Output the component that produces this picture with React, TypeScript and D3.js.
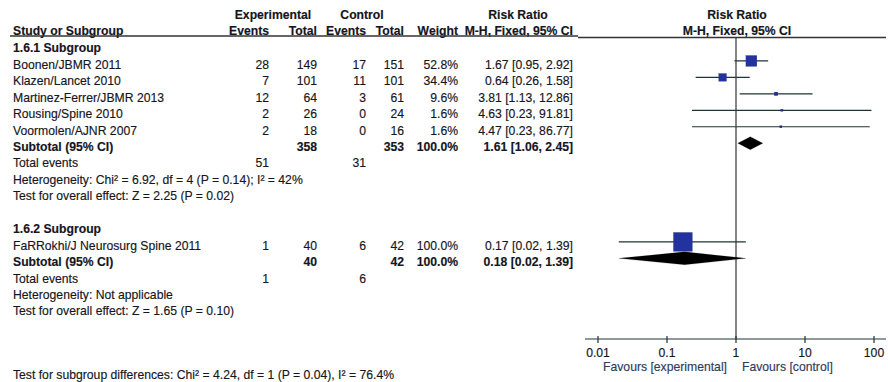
import * as React from 'react';
import * as d3 from 'd3';

// study level data
const group1Names = ['Boonen/JBMR 2011', 'Klazen/Lancet 2010', 'Martinez-Ferrer/JBMR 2013', 'Rousing/Spine 2010', 'Voormolen/AJNR 2007'];
const group1ExpEvents = [28, 7, 12, 2, 2];
const group1ExpTotals = [149, 101, 64, 26, 18];
const group1CtrlEvents = [17, 11, 3, 0, 0];
const group1CtrlTotals = [151, 101, 61, 24, 16];
const group1Weights = [52.8, 34.4, 9.6, 1.6, 1.6];
const group1RR = [1.67, 0.64, 3.81, 4.63, 4.47];
const group1Low = [0.95, 0.26, 1.13, 0.23, 0.23];
const group1High = [2.92, 1.58, 12.86, 91.81, 86.77];

const group2Names = ['FaRRokhi/J Neurosurg Spine 2011'];
const group2ExpEvents = [1];
const group2ExpTotals = [40];
const group2CtrlEvents = [6];
const group2CtrlTotals = [42];
const group2Weights = [100.0];
const group2RR = [0.17];
const group2Low = [0.02];
const group2High = [1.39];

// subtotals: [group1, group2]
const subExpTotals = [358, 40];
const subCtrlTotals = [353, 42];
const subExpEvents = [51, 1];
const subCtrlEvents = [31, 6];
const subRR = [1.61, 0.18];
const subLow = [1.06, 0.02];
const subHigh = [2.45, 1.39];
const heterogeneity = ['Heterogeneity: Chi\u00b2 = 6.92, df = 4 (P = 0.14); I\u00b2 = 42%', 'Heterogeneity: Not applicable'];
const overallEffect = ['Test for overall effect: Z = 2.25 (P = 0.02)', 'Test for overall effect: Z = 1.65 (P = 0.10)'];
const groupLabels = ['1.6.1 Subgroup', '1.6.2 Subgroup'];

const tickValues = [0.01, 0.1, 1, 10, 100];
const tickLabels = ['0.01', '0.1', '1', '10', '100'];

const W = 888, H = 382;
const FONT = '"Liberation Sans", Arial, sans-serif';
const TEXT = '#15151c';
const LINE = '#1f3535';
const BOX = '#2233a0';

const fmt = (v: number) => v.toFixed(2);
const ciText = (r: number, l: number, h: number) => `${fmt(r)} [${fmt(l)}, ${fmt(h)}]`;

const App: React.FC = () => {
  const x = d3.scaleLog().domain([0.01, 100]).range([598, 874]);
  const rowY = (i: number) => 48 + i * 16.45;
  const markOff = -3.5;
  const boxSize = d3.scaleLinear().domain([0, 100]).range([2, 19]);

  // columns (right edges)
  const cExpEv = 269, cExpTot = 317, cCtrlEv = 366, cCtrlTot = 404, cWeight = 458, cCI = 573;

  type Study = { name: string; ee: number; et: number; ce: number; ct: number; w: number; rr: number; lo: number; hi: number };
  const mk = (names: string[], ee: number[], et: number[], ce: number[], ct: number[], w: number[], rr: number[], lo: number[], hi: number[]): Study[] =>
    names.map((n, i) => ({ name: n, ee: ee[i], et: et[i], ce: ce[i], ct: ct[i], w: w[i], rr: rr[i], lo: lo[i], hi: hi[i] }));
  const groups = [
    mk(group1Names, group1ExpEvents, group1ExpTotals, group1CtrlEvents, group1CtrlTotals, group1Weights, group1RR, group1Low, group1High),
    mk(group2Names, group2ExpEvents, group2ExpTotals, group2CtrlEvents, group2CtrlTotals, group2Weights, group2RR, group2Low, group2High),
  ];

  const els: React.ReactNode[] = [];
  let row = 0;
  const txt = (key: string, xx: number, i: number, s: string, anchor: 'start' | 'end' | 'middle' = 'end', bold = false) => (
    <text key={key} x={xx} y={rowY(i)} dy="0.35em" textAnchor={anchor} fontWeight={bold ? 'bold' : 'normal'}>{s}</text>
  );

  groups.forEach((studies, g) => {
    els.push(txt(`gl${g}`, 13, row, groupLabels[g], 'start', true));
    row++;
    studies.forEach((s, j) => {
      const k = `s${g}-${j}`;
      els.push(txt(k + 'n', 13, row, s.name, 'start'));
      els.push(txt(k + 'ee', cExpEv, row, String(s.ee)));
      els.push(txt(k + 'et', cExpTot, row, String(s.et)));
      els.push(txt(k + 'ce', cCtrlEv, row, String(s.ce)));
      els.push(txt(k + 'ct', cCtrlTot, row, String(s.ct)));
      els.push(txt(k + 'w', cWeight, row, `${s.w.toFixed(1)}%`));
      els.push(txt(k + 'ci', cCI, row, ciText(s.rr, s.lo, s.hi)));
      const cy = rowY(row) + markOff;
      const sz = boxSize(s.w);
      els.push(<line key={k + 'l'} x1={x(s.lo)} x2={x(s.hi)} y1={cy} y2={cy} stroke={LINE} strokeWidth={1.2} />);
      els.push(<rect key={k + 'b'} x={x(s.rr) - sz / 2} y={cy - sz / 2} width={sz} height={sz} fill={BOX} />);
      row++;
    });
    // subtotal
    els.push(txt(`st${g}n`, 13, row, 'Subtotal (95% CI)', 'start', true));
    els.push(txt(`st${g}et`, cExpTot, row, String(subExpTotals[g]), 'end', true));
    els.push(txt(`st${g}ct`, cCtrlTot, row, String(subCtrlTotals[g]), 'end', true));
    els.push(txt(`st${g}w`, cWeight, row, '100.0%', 'end', true));
    els.push(txt(`st${g}ci`, cCI, row, ciText(subRR[g], subLow[g], subHigh[g]), 'end', true));
    const dy = rowY(row) + markOff;
    const dh = 6.5;
    const pts = [[x(subLow[g]), dy], [x(subRR[g]), dy - dh], [x(subHigh[g]), dy], [x(subRR[g]), dy + dh]];
    els.push(<polygon key={`d${g}`} points={pts.map(p => p.join(',')).join(' ')} fill="#000" />);
    row++;
    els.push(txt(`te${g}n`, 13, row, 'Total events', 'start'));
    els.push(txt(`te${g}e`, cExpEv, row, String(subExpEvents[g])));
    els.push(txt(`te${g}c`, cCtrlEv, row, String(subCtrlEvents[g])));
    row++;
    els.push(txt(`h${g}`, 13, row, heterogeneity[g], 'start'));
    row++;
    els.push(txt(`o${g}`, 13, row, overallEffect[g], 'start'));
    row += 2;
  });

  const axisY = 339;

  return (
    <svg width={W} height={H} style={{ position: 'absolute', left: 0, top: 0, background: '#fff' }}
      fontFamily={FONT} fontSize={12.2} fill={TEXT} stroke={TEXT} strokeWidth={0.15}>
      {/* headers */}
      <g fontWeight="bold">
        <text x={273} y={15} dy="0.35em" textAnchor="middle">Experimental</text>
        <text x={362} y={15} dy="0.35em" textAnchor="middle">Control</text>
        <text x={518} y={15} dy="0.35em" textAnchor="middle">Risk Ratio</text>
        <text x={737} y={15} dy="0.35em" textAnchor="middle">Risk Ratio</text>
        <text x={13} y={31} dy="0.35em">Study or Subgroup</text>
        <text x={cExpEv} y={31} dy="0.35em" textAnchor="end">Events</text>
        <text x={cExpTot} y={31} dy="0.35em" textAnchor="end">Total</text>
        <text x={cCtrlEv} y={31} dy="0.35em" textAnchor="end">Events</text>
        <text x={cCtrlTot} y={31} dy="0.35em" textAnchor="end">Total</text>
        <text x={cWeight} y={31} dy="0.35em" textAnchor="end">Weight</text>
        <text x={cCI} y={31} dy="0.35em" textAnchor="end">M-H, Fixed, 95% CI</text>
        <text x={737} y={31} dy="0.35em" textAnchor="middle">M-H, Fixed, 95% CI</text>
      </g>
      <line x1={10} x2={578} y1={36} y2={36} stroke="#333" strokeWidth={1.4} />
      <line x1={578} x2={886} y1={37.5} y2={37.5} stroke="#333" strokeWidth={1.4} />
      {/* null line */}
      <line x1={x(1)} x2={x(1)} y1={37.5} y2={axisY} stroke="#333" strokeWidth={1.2} />
      {els}
      {/* axis */}
      <line x1={585} x2={886} y1={axisY} y2={axisY} stroke={LINE} strokeWidth={1.2} />
      {tickValues.map((t, i) => (
        <g key={`t${i}`}>
          <line x1={x(t)} x2={x(t)} y1={axisY - 3} y2={axisY + 4} stroke={LINE} strokeWidth={1.2} />
          <text x={x(t)} y={353} dy="0.35em" textAnchor="middle">{tickLabels[i]}</text>
        </g>
      ))}
      <text x={727} y={367} dy="0.35em" textAnchor="end" fill="#2e3b5c" stroke="#2e3b5c">Favours [experimental]</text>
      <text x={742} y={367} dy="0.35em" fill="#2e3b5c" stroke="#2e3b5c">Favours [control]</text>
      <text x={13} y={374.5} dy="0.35em">Test for subgroup differences: Chi{'\u00b2'} = 4.24, df = 1 (P = 0.04), I{'\u00b2'} = 76.4%</text>
    </svg>
  );
};

export default App;
